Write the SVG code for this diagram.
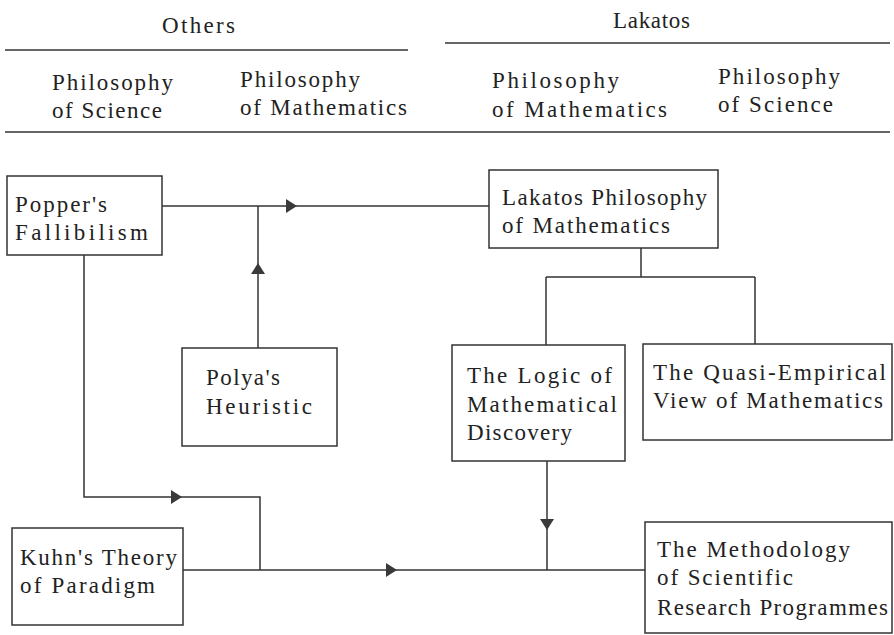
<svg xmlns="http://www.w3.org/2000/svg" width="894" height="635" viewBox="0 0 894 635">
<style>
.t text{font-size:23px;fill:#222}
.box{fill:#fff;stroke:#333;stroke-width:1.5}
.ln{fill:none;stroke:#333;stroke-width:1.5}
.rule{stroke:#333;stroke-width:1.5}
.ah{fill:#3a3a3a}
</style>
<defs>
<path id="arr" d="M0,0 L-11,-7 L-11,7 Z"/>
</defs>
<rect width="894" height="635" fill="#fff"/>
<g class="t" font-family="'Liberation Serif', 'DejaVu Serif', serif">
<g id="header">
<text x="162" y="33" textLength="73" lengthAdjust="spacing">Others</text>
<text x="613" y="28" textLength="77" lengthAdjust="spacing">Lakatos</text>
<line class="rule" x1="5" y1="50" x2="408" y2="50"/>
<line class="rule" x1="445" y1="43" x2="890" y2="43"/>
<text x="52" y="90" textLength="121" lengthAdjust="spacing">Philosophy</text>
<text x="52" y="118" textLength="110" lengthAdjust="spacing">of Science</text>
<text x="240" y="87" textLength="120" lengthAdjust="spacing">Philosophy</text>
<text x="240" y="115" textLength="167" lengthAdjust="spacing">of Mathematics</text>
<text x="492" y="88" textLength="127" lengthAdjust="spacing">Philosophy</text>
<text x="492" y="117" textLength="175" lengthAdjust="spacing">of Mathematics</text>
<text x="718" y="84" textLength="122" lengthAdjust="spacing">Philosophy</text>
<text x="718" y="112" textLength="115" lengthAdjust="spacing">of Science</text>
<line class="rule" x1="5" y1="132" x2="890" y2="132"/>
</g>
<g id="connectors">
<path class="ln" d="M162,206 H489"/>
<path class="ln" d="M258,348 V206"/>
<path class="ln" d="M84,255 V497 H260 V570"/>
<path class="ln" d="M183,570 H645"/>
<path class="ln" d="M641,248 V277 M546,277 H755 M546,277 V345 M755,277 V344"/>
<path class="ln" d="M547,461 V570"/>
<use href="#arr" class="ah" transform="translate(297,206)"/>
<use href="#arr" class="ah" transform="translate(258,263) rotate(-90)"/>
<use href="#arr" class="ah" transform="translate(182,497)"/>
<use href="#arr" class="ah" transform="translate(397,570)"/>
<use href="#arr" class="ah" transform="translate(547,530) rotate(90)"/>
</g>
<g id="popper">
<rect class="box" x="7" y="176" width="155" height="79"/>
<text x="15" y="212" textLength="92" lengthAdjust="spacing">Popper's</text>
<text x="15" y="240" textLength="133" lengthAdjust="spacing">Fallibilism</text>
</g>
<g id="lakatos">
<rect class="box" x="489" y="170" width="229" height="78"/>
<text x="502" y="205" textLength="205" lengthAdjust="spacing">Lakatos Philosophy</text>
<text x="502" y="233" textLength="168" lengthAdjust="spacing">of Mathematics</text>
</g>
<g id="polya">
<rect class="box" x="182" y="348" width="155" height="98"/>
<text x="206" y="385" textLength="74" lengthAdjust="spacing">Polya's</text>
<text x="206" y="414" textLength="106" lengthAdjust="spacing">Heuristic</text>
</g>
<g id="logic">
<rect class="box" x="452" y="345" width="173" height="116"/>
<text x="467" y="383" textLength="145" lengthAdjust="spacing">The Logic of</text>
<text x="467" y="412" textLength="150" lengthAdjust="spacing">Mathematical</text>
<text x="467" y="440" textLength="105" lengthAdjust="spacing">Discovery</text>
</g>
<g id="quasi">
<rect class="box" x="643" y="344" width="249" height="96"/>
<text x="653" y="380" textLength="233" lengthAdjust="spacing">The Quasi-Empirical</text>
<text x="653" y="408" textLength="230" lengthAdjust="spacing">View of Mathematics</text>
</g>
<g id="kuhn">
<rect class="box" x="12" y="528" width="171" height="97"/>
<text x="20" y="565" textLength="157" lengthAdjust="spacing">Kuhn's Theory</text>
<text x="20" y="593" textLength="135" lengthAdjust="spacing">of Paradigm</text>
</g>
<g id="methodology">
<rect class="box" x="645" y="522" width="247" height="111"/>
<text x="657" y="557" textLength="193" lengthAdjust="spacing">The Methodology</text>
<text x="657" y="585" textLength="136" lengthAdjust="spacing">of Scientific</text>
<text x="657" y="615" textLength="231" lengthAdjust="spacing">Research Programmes</text>
</g>
</g>
</svg>
